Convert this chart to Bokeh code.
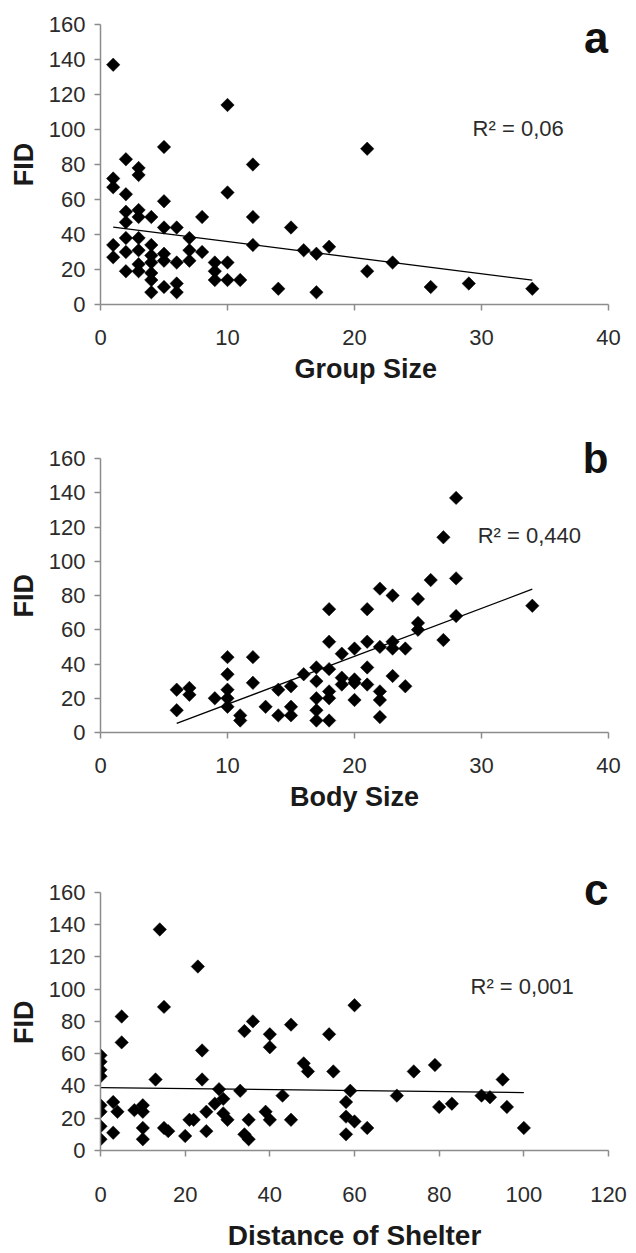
from bokeh.plotting import figure
from bokeh.layouts import column
from bokeh.models import Label, Range1d, FixedTicker
from bokeh.embed import file_html
from bokeh.resources import INLINE

# ---------------- data ----------------
group_size = [1, 1, 1, 1, 1, 2, 2, 2, 2, 2, 2, 2, 3, 3, 3, 3, 3, 3, 3, 3,
              4, 4, 4, 4, 4, 4, 4, 5, 5, 5, 5, 5, 5, 6, 6, 6, 6, 7, 7, 7,
              8, 8, 9, 9, 9, 10, 10, 10, 10, 11, 12, 12, 12, 14, 15, 16, 17, 17, 18, 21,
              21, 23, 26, 29, 34]
fid_group = [137, 72, 67, 34, 27, 83, 63, 53, 47, 38, 30, 19, 78, 74, 54, 50, 38, 31, 23, 19,
             50, 34, 28, 24, 18, 14, 7, 90, 59, 44, 29, 25, 10, 44, 24, 12, 7, 38, 31, 25,
             50, 30, 24, 19, 14, 114, 64, 24, 14, 14, 80, 50, 34, 9, 44, 31, 29, 7, 33, 89,
             19, 24, 10, 12, 9]

body_size = [6, 6, 7, 7, 9, 10, 10, 10, 10, 10, 11, 11, 12, 12, 13, 14, 14, 15, 15, 15,
             16, 17, 17, 17, 17, 17, 18, 18, 18, 18, 18, 18, 19, 19, 19, 20, 20, 20, 20, 21,
             21, 21, 21, 22, 22, 22, 22, 22, 23, 23, 23, 23, 24, 24, 25, 25, 25, 26, 27, 27,
             28, 28, 28, 34]
fid_body = [25, 13, 26, 22, 20, 44, 34, 25, 20, 15, 10, 7, 44, 29, 15, 25, 10, 27, 15, 10,
            34, 38, 30, 20, 13, 7, 72, 53, 37, 24, 20, 7, 46, 32, 28, 49, 31, 29, 19, 72,
            53, 38, 28, 84, 50, 24, 19, 9, 80, 53, 49, 33, 49, 27, 78, 64, 60, 89, 114, 54,
            137, 90, 68, 74]

shelter_dist = [0, 0, 0, 0, 0, 0, 0, 0, 3, 3, 4, 5, 5, 8, 10, 10, 10, 10, 13, 14,
                15, 15, 16, 20, 21, 22, 23, 24, 24, 25, 25, 27, 28, 29, 29, 30, 33, 34, 34, 35,
                35, 36, 39, 40, 40, 40, 43, 45, 45, 48, 49, 54, 55, 58, 58, 58, 59, 60, 60, 63,
                70, 74, 79, 80, 83, 90, 92, 95, 96, 100]
fid_shelter = [59, 55, 50, 46, 28, 24, 15, 7, 30, 11, 24, 83, 67, 25, 28, 24, 14, 7, 44, 137,
               89, 14, 12, 9, 19, 19, 114, 62, 44, 24, 12, 29, 38, 32, 23, 19, 37, 74, 10, 19,
               7, 80, 24, 72, 64, 19, 34, 78, 19, 54, 49, 72, 49, 30, 21, 10, 37, 90, 18, 14,
               34, 49, 53, 27, 29, 34, 33, 44, 27, 14]

# trend lines (end points)
trend_group_x = [1, 34]
trend_group_y = [44.2, 13.9]
trend_body_x = [6, 34]
trend_body_y = [5.3, 83.7]
trend_shelter_x = [0, 100]
trend_shelter_y = [39.0, 35.9]

y_ticks = [0, 20, 40, 60, 80, 100, 120, 140, 160]
x_ticks_ab = [0, 10, 20, 30, 40]
x_ticks_c = [0, 20, 40, 60, 80, 100, 120]
x_titles = ["Group Size", "Body Size", "Distance of Shelter"]
y_title = "FID"
r2_texts = ["R\u00b2 = 0,06", "R\u00b2 = 0,440", "R\u00b2 = 0,001"]
letters = ["a", "b", "c"]

FONT = "'Liberation Sans', Arial, sans-serif"
AXIS_GRAY = "#8c8c8c"
TEXT_COL = "#2b2b2b"
NBSP = "\u00a0"


def panel(xs, ys, tx, ty, xmax, xticks, height, b_top, b_left, b_bottom, frame_w,
          frame_h, px_per_160, title, title_size, title_standoff, label_standoff,
          r2, r2_x, r2_y, letter, letter_y, letter_size, ylabel_pad, xlabel_pad):
    b_right = 628 - b_left - frame_w
    # the frame may be a little taller than the 0..160 axis so that the panel
    # letter (which sits just above the 160 level) is not clipped
    y_end = 160.0 * frame_h / px_per_160
    p = figure(width=628, height=height, x_range=Range1d(0, xmax), y_range=Range1d(0, y_end),
               output_backend="svg", toolbar_location=None,
               min_border_top=b_top, min_border_left=b_left,
               min_border_bottom=b_bottom, min_border_right=b_right)
    p.outline_line_color = None
    p.grid.visible = False
    p.background_fill_color = "white"
    p.border_fill_color = "white"

    for ax in (p.xaxis[0], p.yaxis[0]):
        ax.axis_line_color = AXIS_GRAY
        ax.axis_line_width = 1.5
        ax.major_tick_line_color = AXIS_GRAY
        ax.major_tick_line_width = 1.5
        ax.major_tick_out = 6
        ax.major_tick_in = 0
        ax.minor_tick_line_color = None
        ax.major_label_text_font = FONT
        ax.major_label_text_font_size = "22px"
        ax.major_label_text_color = TEXT_COL
        ax.axis_label_text_font = FONT
        ax.axis_label_text_font_style = "bold"
        ax.axis_label_text_color = "#1a1a1a"

    p.yaxis.bounds = (0, 160)
    p.xaxis.ticker = FixedTicker(ticks=xticks)
    p.yaxis.ticker = FixedTicker(ticks=y_ticks)
    p.xaxis.major_label_standoff = label_standoff
    p.yaxis.major_label_standoff = 9
    p.xaxis.axis_label = NBSP * xlabel_pad + title
    p.xaxis.axis_label_text_font_size = title_size
    p.xaxis.axis_label_standoff = title_standoff
    # trailing no-break spaces keep the visible "FID" centred on the 0..160 span
    p.yaxis.axis_label = y_title + NBSP * ylabel_pad
    p.yaxis.axis_label_text_font_size = "27px"
    p.yaxis.axis_label_standoff = 7

    p.line(tx, ty, line_color="black", line_width=1.3)
    p.scatter(xs, ys, marker="square", size=9.5, angle=0.785398,
              fill_color="black", line_color="black", line_width=0.5)

    p.add_layout(Label(x=r2_x, y=r2_y, text=r2, text_font=FONT, text_font_size="22px",
                       text_color=TEXT_COL, text_align="left", text_baseline="middle"))
    p.add_layout(Label(x=xmax, y=letter_y, text=letter, text_font=FONT,
                       text_font_size=letter_size,
                       text_font_style="bold", text_color="#111111",
                       text_align="right", text_baseline="middle"))
    return p


pa = panel(group_size, fid_group, trend_group_x, trend_group_y, 40, x_ticks_ab,
           height=435, b_top=24, b_left=100, b_bottom=131, frame_w=508,
           frame_h=280, px_per_160=280,
           title=x_titles[0], title_size="27px", title_standoff=6, label_standoff=19,
           r2=r2_texts[0], r2_x=29.3, r2_y=100.6, letter=letters[0], letter_y=152.6,
           letter_size="44px", ylabel_pad=0, xlabel_pad=3)
pb = panel(body_size, fid_body, trend_body_x, trend_body_y, 40, x_ticks_ab,
           height=430, b_top=1, b_left=100, b_bottom=133, frame_w=508,
           frame_h=296, px_per_160=274,
           title=x_titles[1], title_size="27px", title_standoff=6, label_standoff=19,
           r2=r2_texts[1], r2_x=29.7, r2_y=115, letter=letters[1], letter_y=160.0,
           letter_size="42px", ylabel_pad=3, xlabel_pad=0)
pc = panel(shelter_dist, fid_shelter, trend_shelter_x, trend_shelter_y, 120, x_ticks_c,
           height=388, b_top=6, b_left=95, b_bottom=87, frame_w=515,
           frame_h=295, px_per_160=273,
           title=x_titles[2], title_size="28px", title_standoff=15, label_standoff=30,
           r2=r2_texts[2], r2_x=87.4, r2_y=101.4, letter=letters[2], letter_y=161.5,
           letter_size="44px", ylabel_pad=3, xlabel_pad=0)

layout = column(pa, pb, pc, spacing=0)
open("out.html", "w").write(file_html(layout, INLINE))
